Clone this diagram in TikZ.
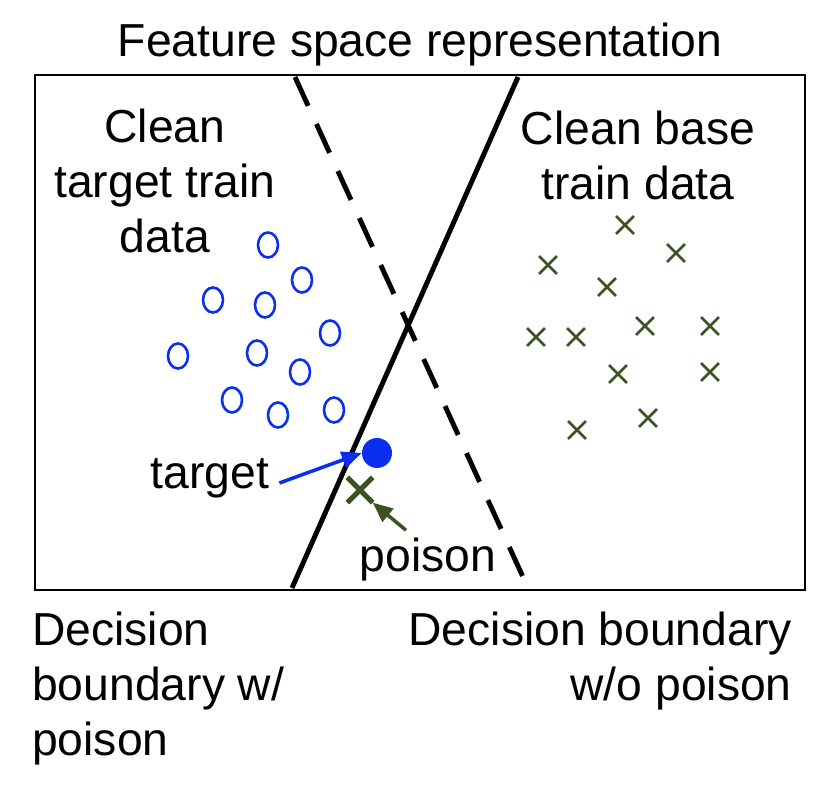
\documentclass[tikz,border=0pt]{standalone}
\usepackage{fontspec}
\setmainfont{Liberation Sans}
\usetikzlibrary{arrows.meta,shapes.geometric,shapes.misc}
\definecolor{xgreen}{HTML}{3B5323}
\definecolor{oblue}{HTML}{0A2EF0}
\begin{document}
\begin{tikzpicture}[x=0.03cm,y=-0.03cm,
        lbl/.style={font=\fontsize{39.5}{47}\selectfont,inner sep=0pt},
        ring/.style={draw=oblue,line width=2.2pt,ellipse,minimum width=0.6cm,
            minimum height=0.75cm,inner sep=0pt},
        cross/.style={cross out,draw=xgreen,line width=2.4pt,minimum size=0.45cm,
            inner sep=0pt},
        bound/.style={line width=4.2pt}]
\useasboundingbox (0,0) rectangle (830,796);
\node[lbl] (title) at (420,45) {Feature space representation};
\draw[line width=2.5pt] (35,75) rectangle (805,590);

\coordinate (dtop) at (295,77);
\coordinate (dbot) at (528,588);
\coordinate (stop) at (518,77);
\coordinate (sbot) at (292,588);
\draw[bound,dash pattern=on 0.95cm off 0.6cm] (dtop) -- (dbot);
\draw[bound] (stop) -- (sbot);

\node[lbl,align=center] (ttrain) at (165,181) {Clean\\target train\\data};
\node[lbl,align=center] (btrain) at (638,155) {Clean base\\train data};

\foreach \x/\y in {268/245,302/280,213/300,265/305,330/333,178/356,257/353,
        300/372,232/400,278/415,334/410}
    \node[ring] at (\x,\y) {};
\foreach \x/\y in {625/225,676/253,548/265,607/287,536/337,576/337,645/326,
        710/326,618/374,710/372,577/430,648/418}
    \node[cross] at (\x,\y) {};

\node[circle,fill=oblue,minimum size=0.9cm,inner sep=0pt] (target) at (377,453) {};
\node[cross,line width=4.5pt,minimum size=0.6cm] (poison) at (360,490) {};

\node[lbl] (tlbl) at (210,478) {target};
\node[lbl] (plbl) at (428,560) {poison};
\draw[-{Triangle[length=0.6cm,width=0.5cm]},oblue,line width=3pt]
    (tlbl.east) ++(10,5) coordinate (tstart) -- (target.west);
\draw[-{Triangle[length=0.6cm,width=0.5cm]},xgreen,line width=3pt]
    (plbl.north) ++(-22,-8) coordinate (pstart) -- (poison.south east);

\node[lbl,align=left,anchor=north west] (wlbl) at (32,612)
    {Decision\\boundary w/\\poison};
\node[lbl,align=right,anchor=north east] (wolbl) at (792,612)
    {Decision boundary\\w/o poison};
\end{tikzpicture}
\end{document}
